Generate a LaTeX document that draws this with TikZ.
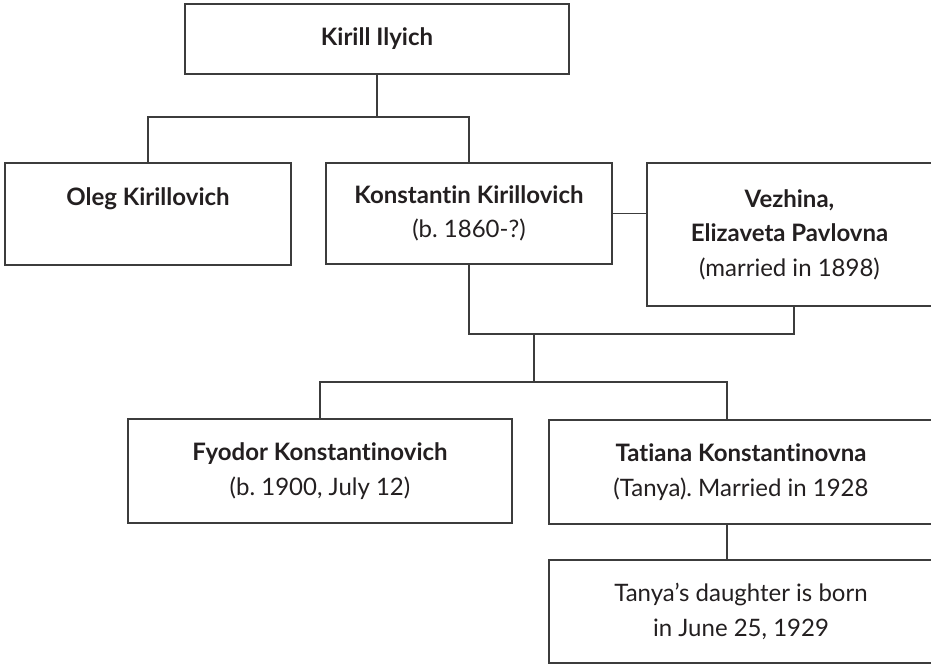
\documentclass[tikz,border=0pt]{standalone}
\usepackage{fontspec}
\setmainfont{Lato}[Ligatures=NoCommon]
\definecolor{ink}{HTML}{231F20}
\definecolor{linec}{HTML}{3C3C3C}
\frenchspacing
\begin{document}
\begin{tikzpicture}[x=1pt,y=-1pt,
  box/.style={draw=linec, line width=1.3pt, rectangle, inner sep=0pt, align=center,
    text=ink, font=\fontsize{24}{34.5}\selectfont},
  link/.style={draw=linec, line width=1.3pt}]
\useasboundingbox (0,0) rectangle (931,664);
\node[box, minimum width=384pt, minimum height=70pt] (kirill) at (377,39) {\textbf{Kirill Ilyich}};
\node[box, minimum width=286pt, minimum height=102pt] (oleg) at (148,214) {\textbf{Oleg Kirillovich}\\\mbox{}};
\node[box, minimum width=286pt, minimum height=101pt] (konst) at (469,213.5) {\textbf{Konstantin Kirillovich}\\(b. 1860-?)};
\node[box, minimum width=285pt, minimum height=143pt] (vezh) at (789.5,234.5) {\textbf{Vezhina,}\\\textbf{Elizaveta Pavlovna}\\(married in 1898)};
\node[box, minimum width=384pt, minimum height=104pt] (fyodor) at (320,471) {\textbf{Fyodor Konstantinovich}\\(b. 1900, July 12)};
\node[box, minimum width=384pt, minimum height=104pt] (tat) at (741,472) {\textbf{Tatiana Konstantinovna}\\(Tanya).\ Married in 1928};
\node[box, minimum width=384pt, minimum height=103pt] (dau) at (741,611.5) {Tanya's daughter is born\\in June 25, 1929};
\coordinate (j1) at (377,117);
\coordinate (j2) at (534,334);
\coordinate (j3) at (534,382);
\draw[link] (kirill.south) -- (j1);
\draw[link] (oleg.north) |- (j1) -| (konst.north);
\draw[link] (konst.east) -- (vezh.west |- konst.east);
\draw[link] (konst.south) |- (j2) -| ([xshift=4.5pt]vezh.south);
\draw[link] (j2) -- (j3);
\draw[link] (fyodor.north) |- (j3) -| ([xshift=-14pt]tat.north);
\draw[link] ([xshift=-14pt]tat.south) -- ([xshift=-14pt]dau.north);
\end{tikzpicture}
\end{document}
